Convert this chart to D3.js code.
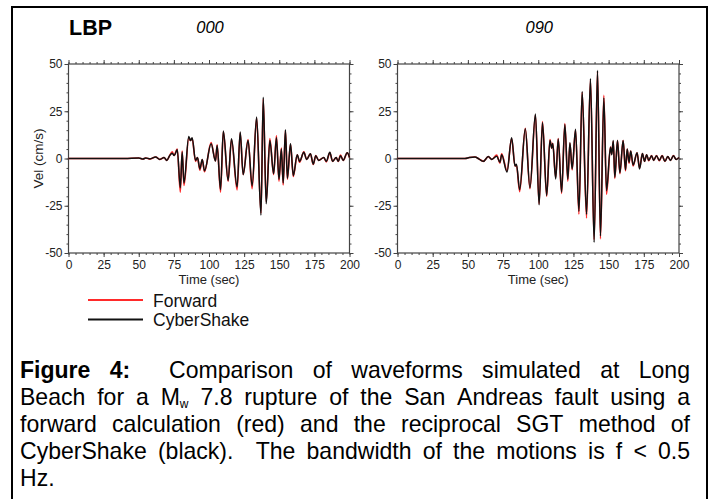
<!DOCTYPE html>
<html>
<head>
<meta charset="utf-8">
<script src="https://cdn.jsdelivr.net/npm/d3@7"></script>
<style>
  body { margin: 0; background: #fff; }
  svg { display: block; font-family: "Liberation Sans", Arial, sans-serif; }
</style>
</head>
<body>
<svg id="fig" width="712" height="499"></svg>
<script>
// station LBP, component 000 : times of the peaks/troughs (sec) and velocities (cm/s)
var time000 = [0, 40, 50, 53, 55, 58, 62, 65, 68, 70, 72, 73.8, 75.2, 77.4, 79.6, 80.9, 82.2, 85.6, 86.8, 88,
  90.4, 91.8, 93.5, 95.2, 96.8, 101.5, 104.6, 105.8, 108.2, 110.2, 113.6, 116, 120, 122.2, 124.3, 127.8,
  130.7, 133.9, 137, 138.6, 140.7, 143.3, 146, 148, 149.8, 151.5, 152.8, 154.4, 155.8, 158, 160,
  162.8, 164.5, 167.5, 169.5, 172.2, 174.2, 176, 178, 181.7, 183.5, 186, 188, 190.5, 192, 193.6, 195.5, 198.4, 200];
var cyberShake000 = [0, 0, 0.3, -0.3, 0.3, -0.2, 0.8, -0.5, 0.5, -1, 1.5, 2.8, 1.6, 4.6, -15.5, 3.5, -13, 11.6, 9.5, 11,
  -1, 0.5, -5.5, -0.5, -6.5, 7.8, -1.3, 6.9, -16.5, 14.5, -11.6, 10.4, -15, 14, -8.5, 9.5,
  -14.5, 21.9, -30, 32.4, -24, 9.5, -8, 11, -11, 5, -13, 15.2, -10.5, 7.8, -9,
  2, -1.5, 3.3, -0.5, 2.5, -3, 1.5, -1, 0.5, -1.5, 3.3, -1.5, 0.5, -1.5, 1.5, -1, 3, 0.5];
var forward000 = [0, 0, 0.3, -0.3, 0.3, -0.2, 0.8, -0.5, 0.5, -1, 1.5, 3.5, 1.6, 5, -17.8, 4, -14.3, 11, 9.5, 10.5,
  -1.5, 0.5, -6.2, -0.5, -7, 8.5, -1.3, 7.2, -17.8, 14.2, -12, 10, -16.6, 13.5, -8.5, 10,
  -16, 21.5, -29, 31.5, -23, 10.5, -8.5, 12, -12, 5.5, -14, 14.8, -11, 7.5, -9.5,
  2, -2, 3.5, -0.5, 2.5, -3.2, 1.5, -1, 0.5, -1.8, 3, -1.5, 0.5, -1.5, 1.8, -1, 3, 0.5];

// station LBP, component 090
var time090 = [0, 42, 48, 51, 55, 58, 61, 64.5, 67, 70.5, 72.8, 74, 77.8, 81.1, 83.5, 84.5, 86.8, 90.8, 94.1,
  98, 100.6, 103, 106, 108.3, 109.6, 110.3, 112.4, 114.2, 116.6, 118.9, 121, 122.5, 124.1, 126.5, 128.9,
  131.2, 134.3, 137.1, 139.7, 142.1, 144.2, 146.6, 148.5, 151.3, 152.2, 153.3, 154.4, 156.3, 158, 160.3,
  162, 163.2, 164.5, 165.7, 167.4, 170.2, 172, 174, 175.5, 177, 178.5, 180.5, 182, 184, 186, 188, 190,
  192, 194, 196, 198, 200];
var cyberShake090 = [0, 0, 0, 0.5, 0.8, -0.3, -1.5, 1, -0.5, 1.2, -2, 2, -7.2, 11, -4, -3, -16.5, 15.7, -15.5,
  23.6, -24.5, 19, -19.6, 9.5, 5.5, 8, -10.8, 10.3, -17.8, 18, -11, 8.3, -5.5, 15.5, -28,
  35.5, -29.5, 42.2, -44.3, 46.6, -41, 32, -17, 6, 2, 9.5, -9.9, 9.5, -7.5, 9.5,
  -6, 5, -2, 4, -3.5, 3, -5.5, 2.6, -1.5, 2, -1, 1.5, -1, 1.5, -1, 1.5, -1.5,
  1, -1, 1.5, -0.5, 0.5];
var forward090 = [0, 0, 0, 0.5, 0.8, -0.3, -1.5, 1, -0.5, 1.8, -2.5, 2.5, -6.5, 10.5, -4, -3.5, -17.5, 16, -16,
  23, -24, 19.5, -20, 10, 5.5, 8, -10, 10.5, -18.5, 18.5, -12, 8, -6, 15, -29.5,
  35, -31.5, 41.5, -43, 46, -42.5, 33.5, -19, 6, 2.5, 9, -10.5, 9.5, -8, 9.5,
  -6.5, 5, -2.5, 4, -4, 3, -5, 2.6, -1.5, 2, -1.2, 1.5, -1, 1.5, -1.2, 1.5, -1.5,
  1, -1, 1.5, -0.5, 0.5];

var xMajor = [0, 25, 50, 75, 100, 125, 150, 175, 200];
var yMajor = [-50, -25, 0, 25, 50];
var seriesNames = ["Forward", "CyberShake"];
var seriesColors = ["#ff2a2a", "#111111"];

var captionLines = [
  [{t: "Figure", b: 1}, {t: "4:", b: 1, gap: 2}, {t: "Comparison"}, {t: "of"}, {t: "waveforms"}, {t: "simulated"}, {t: "at"}, {t: "Long"}],
  [{t: "Beach"}, {t: "for"}, {t: "a"}, {t: "M", sub: "w"}, {t: "7.8"}, {t: "rupture"}, {t: "of"}, {t: "the"}, {t: "San"}, {t: "Andreas"}, {t: "fault"}, {t: "using"}, {t: "a"}],
  [{t: "forward"}, {t: "calculation"}, {t: "(red)"}, {t: "and"}, {t: "the"}, {t: "reciprocal"}, {t: "SGT"}, {t: "method"}, {t: "of"}],
  [{t: "CyberShake"}, {t: "(black).", gap: 2}, {t: "The"}, {t: "bandwidth"}, {t: "of"}, {t: "the"}, {t: "motions"}, {t: "is"}, {t: "f"}, {t: "<"}, {t: "0.5"}],
  [{t: "Hz."}]
];

var svg = d3.select("#fig");

// page frame
svg.append("rect")
  .attr("x", 12).attr("y", 7).attr("width", 695).attr("height", 520)
  .attr("fill", "none").attr("stroke", "#000").attr("stroke-width", 2);

svg.append("text").attr("x", 69).attr("y", 35)
  .attr("font-size", 21.5).attr("font-weight", "bold").text("LBP");

var plotTop = 64, plotBottom = 253;
var y = d3.scaleLinear().domain([-50, 50]).range([plotBottom, plotTop]);
var plain = function(d) { return String(d); };

function drawPanel(x0, x1, title, times, fwd, cyb, showYTitle) {
  var x = d3.scaleLinear().domain([0, 200]).range([x0, x1]);
  var g = svg.append("g");

  var axisStyle = function(sel) {
    sel.selectAll("path").remove();
    sel.selectAll("line").attr("stroke", "#444").attr("stroke-width", 1);
    sel.selectAll("text").attr("fill", "#222").attr("font-size", 12)
      .attr("font-family", "'Liberation Sans', Arial, sans-serif");
  };

  // minor ticks every 5, major every 25, all four sides
  [[d3.axisBottom, plotBottom], [d3.axisTop, plotTop]].forEach(function(a) {
    g.append("g").attr("transform", "translate(0," + a[1] + ")")
      .call(a[0](x).tickValues(d3.range(0, 201, 5)).tickSize(2).tickFormat(""))
      .call(axisStyle);
  });
  [[d3.axisLeft, x0], [d3.axisRight, x1]].forEach(function(a) {
    g.append("g").attr("transform", "translate(" + a[1] + ",0)")
      .call(a[0](y).tickValues(d3.range(-50, 51, 5)).tickSize(2).tickFormat(""))
      .call(axisStyle);
  });
  g.append("g").attr("transform", "translate(0," + plotBottom + ")")
    .call(d3.axisBottom(x).tickValues(xMajor).tickSize(4).tickPadding(3).tickFormat(plain))
    .call(axisStyle);
  g.append("g").attr("transform", "translate(0," + plotTop + ")")
    .call(d3.axisTop(x).tickValues(xMajor).tickSize(4).tickFormat(""))
    .call(axisStyle);
  g.append("g").attr("transform", "translate(" + x0 + ",0)")
    .call(d3.axisLeft(y).tickValues(yMajor).tickSize(4).tickPadding(2).tickFormat(plain))
    .call(axisStyle);
  g.append("g").attr("transform", "translate(" + x1 + ",0)")
    .call(d3.axisRight(y).tickValues(yMajor).tickSize(4).tickFormat(""))
    .call(axisStyle);

  g.append("rect").attr("x", x0).attr("y", plotTop).attr("width", x1 - x0).attr("height", plotBottom - plotTop)
    .attr("fill", "none").attr("stroke", "#444").attr("stroke-width", 1.2);

  var line = d3.line()
    .x(function(d, i) { return x(times[i]); })
    .y(function(d) { return y(d); })
    .curve(d3.curveMonotoneX);

  g.append("path").datum(fwd).attr("d", line)
    .attr("fill", "none").attr("stroke", seriesColors[0]).attr("stroke-width", 1.6);
  g.append("path").datum(cyb).attr("d", line)
    .attr("fill", "none").attr("stroke", seriesColors[1]).attr("stroke-width", 1.5);

  g.append("text").attr("x", (x0 + x1) / 2 + 1).attr("y", 33)
    .attr("text-anchor", "middle").attr("font-size", 16.5).attr("font-style", "italic").text(title);

  g.append("text").attr("x", (x0 + x1) / 2).attr("y", 284)
    .attr("text-anchor", "middle").attr("font-size", 13).attr("fill", "#222").text("Time (sec)");

  if (showYTitle) {
    g.append("text").attr("transform", "translate(42.5," + y(0) + ") rotate(-90)")
      .attr("text-anchor", "middle").attr("font-size", 13.5).attr("fill", "#222").text("Vel (cm/s)");
  }
}

drawPanel(68.5, 349.5, "000", time000, forward000, cyberShake000, true);
drawPanel(397.5, 679, "090", time090, forward090, cyberShake090, false);

// legend
var legend = svg.append("g");
seriesNames.forEach(function(name, i) {
  var ly = 300 + i * 19.5;
  legend.append("line").attr("x1", 88).attr("x2", 143).attr("y1", ly).attr("y2", ly)
    .attr("stroke", seriesColors[i]).attr("stroke-width", 2);
  legend.append("text").attr("x", 153).attr("y", ly + 6.5)
    .attr("font-size", 17.5).attr("fill", "#111").text(name);
});

// justified caption, a slightly narrow face made by squeezing the sans font
var squeeze = 0.96;
var cap = svg.append("g")
  .attr("font-family", "'Liberation Sans', Arial, sans-serif")
  .attr("font-size", 24).attr("fill", "#000");
var capLeft = 20, capRight = 690, capTop = 378, capStep = 27;

captionLines.forEach(function(words, li) {
  var by = capTop + li * capStep;
  var nodes = words.map(function(w) {
    var wg = cap.append("g");
    var t = wg.append("text").attr("font-weight", w.b ? "bold" : "normal");
    t.append("tspan").text(w.t);
    if (w.sub) t.append("tspan").attr("font-size", 12.5).attr("dy", 2.5).text(w.sub);
    return wg;
  });
  var widths = nodes.map(function(n) { return n.select("text").node().getComputedTextLength() * squeeze; });
  var last = li === captionLines.length - 1;
  var gaps = 0;
  words.forEach(function(w, i) { if (i < words.length - 1) gaps += (w.gap || 1); });
  var space = last ? 6 : (capRight - capLeft - d3.sum(widths)) / Math.max(gaps, 1);
  var cx = capLeft;
  nodes.forEach(function(n, i) {
    n.attr("transform", "translate(" + cx + "," + by + ") scale(" + squeeze + ",1)");
    cx += widths[i] + space * (words[i].gap || 1);
  });
});
</script>
</body>
</html>
